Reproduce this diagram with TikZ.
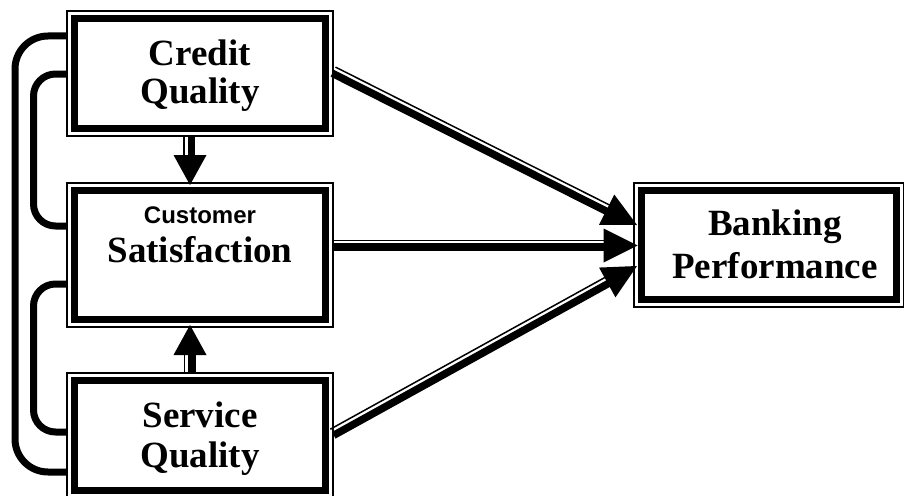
\documentclass[tikz,border=0pt]{standalone}
\usepackage{fontspec}
\setmainfont{Liberation Serif}
\newfontfamily\sansbold{Liberation Sans}
\usetikzlibrary{arrows.meta,calc}
\begin{document}
\begin{tikzpicture}[x=1pt,y=-1pt,
  boxo/.style={draw, line width=1.2pt, minimum width=266pt, minimum height=125pt, inner sep=0pt, outer sep=0pt},
  thickb/.style={line width=7pt},
  lbl/.style={anchor=base, inner sep=0pt, font=\bfseries\fontsize{37}{40}\selectfont},
  sublbl/.style={anchor=base, inner sep=0pt, font=\sansbold\bfseries\fontsize{24}{26}\selectfont},
  loopline/.style={line width=7pt},
  thinl/.style={line width=1.5pt},
  thickl/.style={line width=7.5pt},
  tipH/.style={draw=white, line width=0.1pt, -{Triangle[length=34pt,width=34pt,line width=0pt,color=black]}},
  tipV/.style={draw=white, line width=0.1pt, -{Triangle[length=30pt,width=33pt,line width=0pt,color=black]}}
]
\useasboundingbox (0,0) rectangle (904,495);

% boxes (outer thin borders)
\node[boxo] (cq) at (200,73.5) {};
\node[boxo, minimum height=144pt] (cs) at (200,255) {};
\node[boxo] (sq) at (200,435.5) {};
\node[boxo, minimum width=270pt, minimum height=124pt] (bp) at (769,245) {};

% left loops
\draw[loopline, rounded corners=33pt] ($(cq.north west)+(0,25)$) -- (15,36) -- (15,472) -- ($(sq.north west)+(0,99)$);
\draw[loopline, rounded corners=22pt] ($(cq.north west)+(0,63)$) -- (33.5,74) -- (33.5,226) -- ($(cs.north west)+(0,43)$);
\draw[loopline, rounded corners=22pt] ($(cs.north west)+(0,101)$) -- (33.5,284) -- (33.5,432) -- ($(sq.north west)+(0,59)$);

% borders: outer thin and inner thick
\foreach \b in {cq,cs,sq,bp} {
  \draw[line width=1.2pt] (\b.north west) rectangle (\b.south east);
  \draw[thickb] ($(\b.north west)+(7.5,7.5)$) rectangle ($(\b.south east)+(-7.5,-7.5)$);
}

% labels
\node[lbl] (t1) at (200,65) {Credit};
\node[lbl] (t2) at (200,103) {Quality};
\node[sublbl] (t3) at (200,223) {Customer};
\node[lbl] (t4) at (200,262) {Satisfaction};
\node[lbl] (t5) at (200,427) {Service};
\node[lbl] (t6) at (200,467) {Quality};
\node[lbl] (t7) at (775,235) {Banking};
\node[lbl] (t8) at (775,278) {Performance};

% named end points
\coordinate (a1s) at ($(cq.north east)+(0,61)$);
\coordinate (a1e) at ($(bp.north west)+(3,42)$);
\coordinate (a2s) at ($(cs.east)+(0,-9.5)$);
\coordinate (a2e) at ($(bp.west)+(3.5,0.5)$);
\coordinate (a3s) at ($(sq.north east)+(0,61)$);
\coordinate (a3e) at ($(bp.north west)+(3,83)$);
\coordinate (v1s) at ($(cq.south)+(-10,0)$);
\coordinate (v1e) at ($(cs.north)+(-10,2)$);
\coordinate (v2s) at ($(sq.north)+(-10,0)$);
\coordinate (v2e) at ($(cs.south)+(-10,-2)$);

% arrows to Banking Performance
\draw[tipH] (a1s) -- (a1e);
\draw[thickl, shorten >=30pt, transform canvas={shift={(-0.7,1.3)}}] (a1s) -- (a1e);
\draw[thinl, shorten >=30pt, transform canvas={shift={(2.5,-4.9)}}] (a1s) -- (a1e);

\draw[tipH] (a2s) -- (a2e);
\draw[thickl, shorten >=30pt, transform canvas={shift={(0,1.5)}}] (a2s) -- (a2e);
\draw[thinl, shorten >=30pt, transform canvas={shift={(0,-5)}}] (a2s) -- (a2e);

\draw[tipH] (a3s) -- (a3e);
\draw[thickl, shorten >=30pt, transform canvas={shift={(0.7,1.3)}}] (a3s) -- (a3e);
\draw[thinl, shorten >=30pt, transform canvas={shift={(-2.7,-4.8)}}] (a3s) -- (a3e);

% vertical arrows
\draw[tipV] (v1s) -- (v1e);
\draw[thickl, shorten >=27pt, transform canvas={shift={(1.5,0)}}] (v1s) -- (v1e);
\draw[thinl, shorten >=27pt, transform canvas={shift={(-6,0)}}] (v1s) -- (v1e);

\draw[tipV] (v2s) -- (v2e);
\draw[thickl, shorten >=27pt, transform canvas={shift={(2,0)}}] (v2s) -- (v2e);
\draw[thinl, shorten >=27pt, transform canvas={shift={(-5.5,0)}}] (v2s) -- (v2e);
\end{tikzpicture}
\end{document}
